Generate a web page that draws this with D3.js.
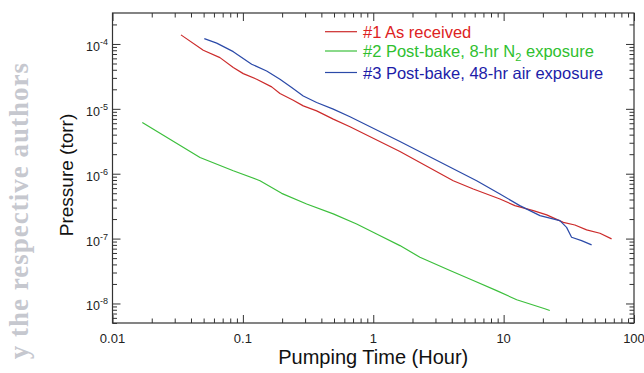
<!DOCTYPE html>
<html><head><meta charset="utf-8">
<script src="https://cdn.jsdelivr.net/npm/d3@7"></script>
<style>body{margin:0;background:#fff}svg{display:block}</style>
</head><body>
<script>
// ---- data ----
const xTicks = [0.01, 0.1, 1, 10, 100];
const xTickLabels = ["0.01", "0.1", "1", "10", "100"];
const yTicks = [1e-8, 1e-7, 1e-6, 1e-5, 1e-4];
const yTickExps = ["-8", "-7", "-6", "-5", "-4"];

const seriesNames = ["#1 As received", "#2 Post-bake, 8-hr N", "#3 Post-bake, 48-hr air exposure"];

const red = [
  [0.0335,1.38e-4],[0.0497,8.0e-5],[0.0667,6.16e-5],[0.0844,4.32e-5],[0.1007,3.49e-5],
  [0.1276,2.86e-5],[0.1663,2.18e-5],[0.1925,1.72e-5],[0.2434,1.36e-5],[0.2905,1.11e-5],
  [0.368,9.31e-6],[0.4935,6.94e-6],[0.663,5.28e-6],[1.602,2.20e-6],[4.108,7.80e-7],
  [5.85,5.82e-7],[9.37,4.08e-7],[12.2,3.22e-7],[16.9,2.70e-7],[21.4,2.32e-7],
  [28.7,1.78e-7],[35.2,1.62e-7],[43.3,1.36e-7],[54.8,1.21e-7],[67.3,9.9e-8]
];
const green = [
  [0.01693,6.15e-6],[0.0469,1.78e-6],[0.0844,1.11e-6],[0.1353,7.80e-7],[0.1984,4.98e-7],
  [0.3085,3.42e-7],[0.4935,2.40e-7],[0.746,1.68e-7],[1.062,1.18e-7],[1.602,7.80e-8],
  [2.28,5.16e-8],[3.88,3.22e-8],[5.85,2.26e-8],[8.84,1.58e-8],[12.6,1.14e-8],
  [20.7,8.29e-9],[22.6,7.80e-9]
];
const blue = [
  [0.0506,1.21e-4],[0.0630,1.03e-4],[0.0844,7.61e-5],[0.1168,4.87e-5],[0.1522,3.84e-5],
  [0.1925,2.86e-5],[0.2367,2.13e-5],[0.2905,1.58e-5],[0.368,1.25e-5],[0.4935,9.9e-6],
  [0.663,7.53e-6],[1.602,3.14e-6],[6.21,7.80e-7],[9.37,4.87e-7],[13.3,3.22e-7],
  [19.0,2.26e-7],[27.0,1.89e-7],[30.4,1.49e-7],[33.2,1.05e-7],[39.6,9.3e-8],[47.3,8.0e-8]
];

// ---- layout ----
const W = 644, H = 373;
const L = 112.5, R = 634, T = 13, B = 323;

const svg = d3.select("body").append("svg").attr("width", W).attr("height", H)
  .style("font-family", "'Liberation Sans', Arial, sans-serif");

const x = d3.scaleLog().domain([0.01, 100]).range([L, R]);
const y = d3.scaleLog().domain([5e-9, 3e-4]).range([B, T]);

// minor ticks
const xMinor = [];
xTicks.slice(0, -1).forEach(v => { for (let k = 2; k <= 9; k++) xMinor.push(v * k); });
const yMinor = [];
[1e-9, ...yTicks].forEach(v => { for (let k = 2; k <= 9; k++) { const m = v * k; if (m >= 5e-9 && m <= 3e-4) yMinor.push(m); } });

const axisColor = "#333";
function styleAxis(g) {
  g.select(".domain").remove();
  g.selectAll(".tick line").attr("stroke", axisColor).attr("stroke-width", 1);
  g.selectAll(".tick text").remove();
}
const MAJ = 8, MIN = 4.5;
[[d3.axisBottom, `translate(0,${B})`, x], [d3.axisTop, `translate(0,${T})`, x],
 [d3.axisLeft, `translate(${L},0)`, y], [d3.axisRight, `translate(${R},0)`, y]].forEach(([ax, tr, sc]) => {
  const majors = sc === x ? xTicks : yTicks;
  const minors = sc === x ? xMinor : yMinor;
  svg.append("g").attr("transform", tr).call(ax(sc).tickValues(majors).tickSize(-MAJ).tickFormat("")).call(styleAxis);
  svg.append("g").attr("transform", tr).call(ax(sc).tickValues(minors).tickSize(-MIN).tickFormat("")).call(styleAxis);
});

// frame
svg.append("rect").attr("x", L).attr("y", T).attr("width", R - L).attr("height", B - T)
  .attr("fill", "none").attr("stroke", axisColor).attr("stroke-width", 1.2);

// x tick labels
svg.append("g").selectAll("text").data(xTicks).join("text")
  .attr("x", d => x(d)).attr("y", B + 20).attr("text-anchor", "middle")
  .attr("font-size", 13).attr("fill", "#222").text((d, i) => xTickLabels[i]);

// y tick labels
const yl = svg.append("g").selectAll("text").data(yTicks).join("text")
  .attr("x", 108).attr("y", d => y(d) + 7).attr("text-anchor", "end").attr("fill", "#222");
yl.append("tspan").attr("font-size", 12.5).text("10");
yl.append("tspan").attr("font-size", 9).attr("dy", -6).text((d, i) => yTickExps[i]);

// axis titles
svg.append("text").attr("x", (L + R) / 2).attr("y", B + 41).attr("text-anchor", "middle")
  .attr("font-size", 20).attr("fill", "#111").text("Pumping Time (Hour)");
svg.append("text").attr("transform", `translate(73,${(T + B) / 2 + 7}) rotate(-90)`)
  .attr("text-anchor", "middle").attr("font-size", 19).attr("fill", "#111").text("Pressure (torr)");

// watermark (visible part of the reference's edge text)
svg.append("text").attr("transform", "translate(28,62) rotate(-90)")
  .attr("text-anchor", "end").attr("font-family", "'Liberation Serif', 'Times New Roman', serif")
  .attr("font-weight", "bold").attr("font-size", 27).attr("fill", "#c6c8cf")
  .style("letter-spacing", "1px")
  .text("y the respective authors");

// lines
const line = d3.line().x(d => x(d[0])).y(d => y(d[1]));
const lineColors = ["#cc2b2b", "#3cbf3c", "#2b4aa8"];
const textColors = ["#dd2222", "#2fc02f", "#1c1ca8"];
[red, green, blue].forEach((s, i) => {
  svg.append("path").datum(s).attr("d", line).attr("fill", "none")
    .attr("stroke", lineColors[i]).attr("stroke-width", 1.2).attr("stroke-linejoin", "round");
});

// legend
const legY = [31.7, 51, 72.5];
seriesNames.forEach((name, i) => {
  svg.append("line").attr("x1", 325).attr("x2", 357).attr("y1", legY[i]).attr("y2", legY[i])
    .attr("stroke", lineColors[i]).attr("stroke-width", 1.2);
  const t = svg.append("text").attr("x", 363).attr("y", legY[i] + 6)
    .attr("font-size", 16.5).attr("fill", textColors[i]).text(name);
  if (i === 1) {
    t.append("tspan").attr("font-size", 11).attr("dy", 4).text("2");
    t.append("tspan").attr("dy", -4).text(" exposure");
  }
});
</script>
</body></html>
